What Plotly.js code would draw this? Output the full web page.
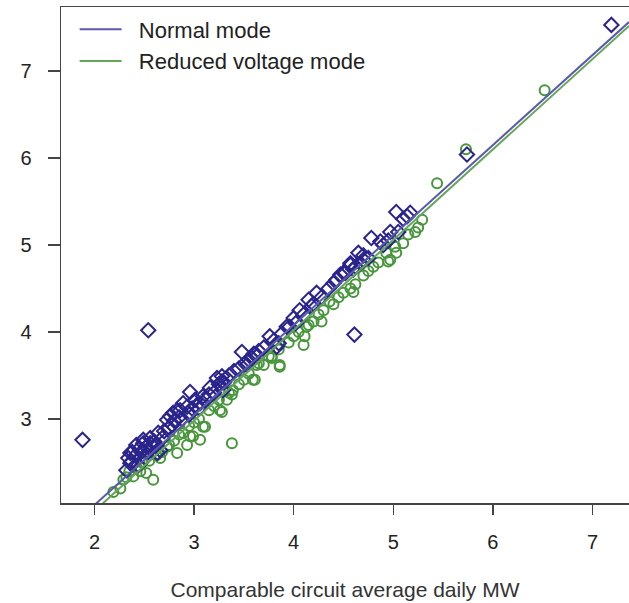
<!DOCTYPE html>
<html>
<head>
<meta charset="utf-8">
<script src="https://cdn.plot.ly/plotly-3.0.1.min.js"></script>
<style>html,body{margin:0;padding:0;background:#fff;overflow:hidden}#chart{width:629px;height:603px}</style>
</head>
<body>
<div id="chart"></div>
<script>
// Normal mode (diamonds)
var normalX = [1.88,2.32,2.34,2.36,2.36,2.37,2.38,2.41,2.42,2.44,2.45,2.47,2.49,2.49,2.51,2.52,2.54,2.54,2.56,2.56,2.59,2.60,2.62,2.63,2.64,2.66,2.68,2.70,2.73,2.75,2.76,2.78,2.79,2.80,2.83,2.85,2.86,2.88,2.89,2.93,2.95,2.96,2.98,3.01,3.02,3.05,3.06,3.09,3.12,3.15,3.16,3.20,3.23,3.25,3.28,3.28,3.29,3.30,3.35,3.40,3.45,3.48,3.51,3.53,3.55,3.58,3.60,3.63,3.65,3.70,3.76,3.80,3.83,3.85,3.88,3.93,3.96,4.00,4.02,4.06,4.10,4.15,4.18,4.20,4.23,4.28,4.35,4.40,4.43,4.47,4.50,4.52,4.57,4.57,4.60,4.61,4.62,4.65,4.67,4.70,4.70,4.75,4.78,4.87,4.90,4.95,4.97,5.03,5.05,5.10,5.14,5.17,5.74,7.19];
var normalY = [2.76,2.41,2.55,2.61,2.49,2.51,2.62,2.58,2.70,2.47,2.66,2.62,2.76,2.72,2.55,2.68,2.62,4.02,2.78,2.72,2.68,2.74,2.70,2.61,2.84,2.64,2.78,2.86,2.99,2.90,3.03,2.93,3.07,2.98,3.10,3.02,3.10,3.00,3.18,3.14,3.05,3.31,3.12,3.22,3.15,3.12,3.18,3.26,3.22,3.28,3.36,3.30,3.47,3.40,3.49,3.43,3.33,3.42,3.50,3.55,3.58,3.77,3.64,3.62,3.68,3.70,3.75,3.72,3.78,3.82,3.95,3.90,3.83,3.87,3.98,4.06,4.06,4.16,4.10,4.25,4.20,4.37,4.30,4.32,4.45,4.40,4.50,4.56,4.60,4.66,4.68,4.68,4.77,4.79,4.72,3.97,4.75,4.91,4.79,4.83,4.88,4.85,5.08,5.04,5.00,5.05,5.15,5.38,5.15,5.30,5.33,5.37,6.04,7.53];

// Reduced voltage mode (circles)
var reducedX = [2.19,2.26,2.29,2.32,2.35,2.39,2.42,2.46,2.48,2.52,2.55,2.59,2.62,2.66,2.68,2.73,2.75,2.80,2.83,2.85,2.89,2.93,2.95,2.96,2.99,3.00,3.05,3.06,3.09,3.11,3.15,3.20,3.25,3.26,3.28,3.33,3.35,3.38,3.38,3.39,3.45,3.50,3.55,3.59,3.61,3.63,3.65,3.70,3.75,3.78,3.78,3.85,3.86,3.86,3.95,4.00,4.05,4.10,4.11,4.13,4.15,4.20,4.25,4.28,4.30,4.36,4.40,4.45,4.50,4.57,4.60,4.62,4.70,4.75,4.80,4.85,4.93,4.95,4.97,5.02,5.03,5.10,5.15,5.22,5.25,5.29,5.44,5.73,6.52];
var reducedY = [2.16,2.20,2.30,2.33,2.40,2.34,2.45,2.40,2.50,2.38,2.52,2.30,2.58,2.55,2.62,2.68,2.70,2.75,2.61,2.82,2.84,2.70,2.92,2.80,2.80,2.96,3.00,2.76,2.91,2.91,3.10,3.15,3.22,3.10,3.08,3.22,3.30,3.28,2.72,3.33,3.40,3.45,3.52,3.45,3.45,3.62,3.64,3.62,3.72,3.72,3.70,3.80,3.60,3.62,3.88,3.95,4.00,3.85,3.95,4.06,4.08,4.12,4.20,4.12,4.25,4.35,4.32,4.40,4.45,4.50,4.46,4.55,4.65,4.70,4.75,4.80,4.91,4.81,4.83,4.98,4.91,5.02,5.12,5.15,5.20,5.29,5.71,6.10,6.78];

// Fitted lines: [intercept, slope]
var normalFit = [-0.058, 1.0345];
var reducedFit = [-0.135, 1.0388];

var seriesNames = ["Normal mode", "Reduced voltage mode"];
var xTicks = [2,3,4,5,6,7];
var yTicks = [3,4,5,6,7];
var xTitle = "Comparable circuit average daily MW";

var xRange = [1.664, 7.367];
var yRange = [2.034, 7.736];

var blueMarker = "rgb(42,36,140)";
var blueLine = "rgb(92,90,170)";
var greenMarker = "rgb(72,150,60)";
var greenLine = "rgb(100,165,90)";

function fitLine(c) {
  return { x: xRange.slice(), y: xRange.map(function (v) { return c[0] + c[1] * v; }) };
}
var nl = fitLine(normalFit), rl = fitLine(reducedFit);

var traces = [
  { x: reducedX, y: reducedY, type: "scatter", mode: "markers", showlegend: false, hoverinfo: "x+y",
    marker: { symbol: "circle-open", size: 10, color: greenMarker, line: { width: 2, color: greenMarker } } },
  { x: normalX, y: normalY, type: "scatter", mode: "markers", showlegend: false, hoverinfo: "x+y",
    marker: { symbol: "diamond-open", size: 11, color: blueMarker, line: { width: 2, color: blueMarker } } },
  { x: nl.x, y: nl.y, type: "scatter", mode: "lines", name: "\u00a0\u00a0" + seriesNames[0], line: { color: blueLine, width: 2 } },
  { x: rl.x, y: rl.y, type: "scatter", mode: "lines", name: "\u00a0\u00a0" + seriesNames[1], line: { color: greenLine, width: 2 } }
];

var font = "Liberation Sans, Arial, sans-serif";
var layout = {
  width: 629, height: 603,
  margin: { l: 61, r: 0, t: 7, b: 100 },
  paper_bgcolor: "#fff", plot_bgcolor: "#fff",
  font: { family: font, size: 20, color: "#222" },
  showlegend: true,
  legend: { x: 0.024, y: 0.997, xanchor: "left", yanchor: "top", bgcolor: "rgba(0,0,0,0)",
    font: { family: font, size: 22, color: "#222" }, itemwidth: 42, tracegroupgap: 0 },
  xaxis: {
    range: xRange, tickvals: xTicks, ticktext: xTicks.map(String),
    showgrid: false, zeroline: false, showline: true, mirror: true,
    linecolor: "#444", linewidth: 1.5, ticks: "outside", ticklen: 10, tickwidth: 1.5, tickcolor: "#444",
    tickfont: { family: font, size: 20, color: "#222" },
    ticklabelstandoff: 10,
    title: { text: xTitle, font: { family: font, size: 21, color: "#333" }, standoff: 31 }
  },
  yaxis: {
    range: yRange, tickvals: yTicks, ticktext: yTicks.map(String),
    showgrid: false, zeroline: false, showline: true, mirror: false,
    linecolor: "#444", linewidth: 1.5, ticks: "outside", ticklen: 12, tickwidth: 1.5, tickcolor: "#444",
    tickfont: { family: font, size: 20, color: "#222" },
    ticklabelstandoff: 12
  }
};

Plotly.newPlot("chart", traces, layout, { displayModeBar: false, staticPlot: true });
</script>
</body>
</html>
